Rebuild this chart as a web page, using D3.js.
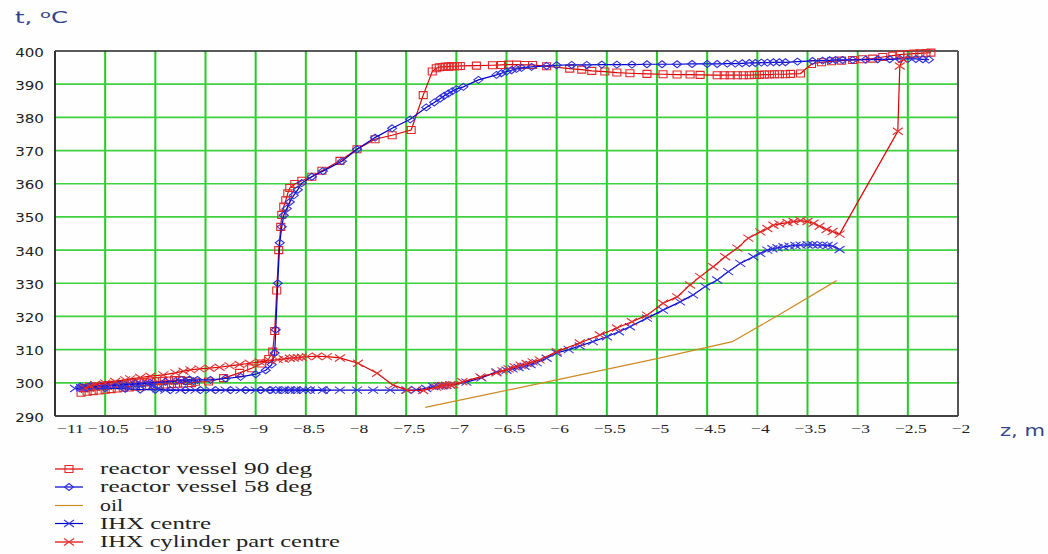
<!DOCTYPE html>
<html><head><meta charset="utf-8">
<script src="https://cdn.jsdelivr.net/npm/d3@7"></script>
<style>html,body{margin:0;padding:0;background:#fff;}svg{display:block;}</style>
</head><body>
<script>
// ---------- data ----------
const seriesNames = ["reactor vessel 90 deg","reactor vessel 58 deg","oil","IHX centre","IHX cylinder part centre"];
const xTicks = [-11,-10.5,-10,-9.5,-9,-8.5,-8,-7.5,-7,-6.5,-6,-5.5,-5,-4.5,-4,-3.5,-3,-2.5,-2];
const yTicks = [290,300,310,320,330,340,350,360,370,380,390,400];

const rv90 = [[-10.74,297.0],[-10.71,298.4],[-10.68,297.3],[-10.65,298.7],[-10.62,297.5],[-10.59,298.9],[-10.56,297.7],[-10.53,299.1],[-10.5,297.9],[-10.47,299.3],[-10.44,298.1],[-10.41,299.4],[-10.38,298.3],[-10.35,299.6],[-10.32,298.5],[-10.29,299.8],[-10.26,298.6],[-10.23,299.9],[-10.2,298.8],[-10.17,300.1],[-10.14,298.9],[-10.11,300.2],[-10.08,299.1],[-10.05,300.4],[-10.02,299.2],[-9.99,300.5],[-9.96,299.4],[-9.93,300.6],[-9.9,299.5],[-9.87,300.7],[-9.84,299.6],[-9.81,300.8],[-9.78,299.7],[-9.75,300.8],[-9.72,299.8],[-9.68,300.6],[-9.64,299.9],[-9.6,300.3],[-9.47,300.4],[-9.32,301.4],[-9.16,303.0],[-9.04,304.4],[-8.94,305.8],[-8.87,307.2],[-8.83,309.4],[-8.81,315.6],[-8.79,327.8],[-8.77,340.0],[-8.75,347.0],[-8.74,350.6],[-8.72,353.1],[-8.7,355.0],[-8.68,357.1],[-8.66,358.7],[-8.61,359.9],[-8.54,360.9],[-8.44,362.1],[-8.34,363.9],[-8.16,366.9],[-7.99,370.4],[-7.81,373.4],[-7.64,374.6],[-7.45,376.2],[-7.33,386.7],[-7.24,393.8],[-7.2,394.8],[-7.17,395.1],[-7.14,395.2],[-7.11,395.3],[-7.08,395.3],[-7.05,395.4],[-7.02,395.4],[-6.99,395.4],[-6.96,395.5],[-6.8,395.6],[-6.64,395.7],[-6.55,395.8],[-6.48,395.9],[-6.4,395.9],[-6.32,395.8],[-6.24,395.8],[-6.1,395.4],[-5.87,394.7],[-5.75,394.4],[-5.65,394.0],[-5.52,393.8],[-5.4,393.5],[-5.27,393.3],[-5.1,393.1],[-4.94,393.0],[-4.8,392.9],[-4.67,392.9],[-4.57,392.8],[-4.4,392.7],[-4.33,392.7],[-4.27,392.7],[-4.2,392.7],[-4.14,392.7],[-4.08,392.7],[-4.03,392.8],[-3.98,392.8],[-3.93,392.9],[-3.88,392.9],[-3.83,393.0],[-3.78,393.0],[-3.72,393.0],[-3.67,393.1],[-3.57,393.2],[-3.46,396.1],[-3.36,396.6],[-3.26,396.9],[-3.16,397.1],[-3.05,397.3],[-2.95,397.5],[-2.85,397.7],[-2.75,398.2],[-2.65,398.6],[-2.58,398.9],[-2.5,399.1],[-2.44,399.2],[-2.38,399.3],[-2.32,399.4],[-2.27,399.5]];

const rv58 = [[-8.3,297.8],[-8.45,297.8],[-8.56,297.8],[-8.62,297.8],[-8.68,297.8],[-8.74,297.8],[-8.8,297.8],[-8.86,297.8],[-8.95,297.8],[-9.1,297.8],[-9.25,297.8],[-9.4,297.8],[-9.55,297.8],[-9.7,297.8],[-9.85,297.8],[-10.0,297.9],[-10.15,298.0],[-10.3,298.2],[-10.5,298.4],[-10.68,298.5],[-10.75,298.8],[-10.65,299.0],[-10.5,299.2],[-10.35,299.5],[-10.2,299.8],[-10.05,300.0],[-9.9,300.3],[-9.8,300.5],[-9.74,300.9],[-9.7,300.4],[-9.66,301.0],[-9.62,300.5],[-9.58,300.9],[-9.45,300.9],[-9.3,301.3],[-9.15,301.8],[-9.0,302.6],[-8.9,303.8],[-8.84,305.5],[-8.81,309.0],[-8.8,316.0],[-8.78,330.0],[-8.76,342.2],[-8.74,347.0],[-8.72,350.5],[-8.69,352.5],[-8.66,354.5],[-8.62,356.5],[-8.58,358.2],[-8.54,360.2],[-8.44,362.1],[-8.33,363.8],[-8.14,366.8],[-7.99,370.4],[-7.81,373.9],[-7.64,376.7],[-7.46,379.4],[-7.3,383.0],[-7.22,384.5],[-7.16,385.7],[-7.12,386.5],[-7.08,387.2],[-7.04,387.9],[-7.0,388.5],[-6.93,389.2],[-6.78,391.3],[-6.6,392.8],[-6.55,393.3],[-6.5,393.8],[-6.45,394.2],[-6.4,394.6],[-6.35,394.9],[-6.25,395.2],[-6.1,395.5],[-6.0,395.7],[-5.85,395.8],[-5.7,395.8],[-5.55,395.9],[-5.4,395.9],[-5.25,395.9],[-5.1,396.0],[-4.95,396.0],[-4.8,396.0],[-4.65,396.1],[-4.5,396.1],[-4.4,396.1],[-4.3,396.2],[-4.22,396.2],[-4.15,396.3],[-4.08,396.4],[-4.02,396.4],[-3.96,396.5],[-3.9,396.5],[-3.84,396.6],[-3.78,396.6],[-3.72,396.6],[-3.6,396.8],[-3.45,397.0],[-3.35,397.1],[-3.28,397.2],[-3.22,397.3],[-3.15,397.3],[-3.05,397.3],[-2.92,397.4],[-2.8,397.5],[-2.68,397.5],[-2.58,397.6],[-2.5,397.6],[-2.42,397.6],[-2.35,397.5],[-2.29,397.4]];

const oil = [[-7.31,292.6],[-6.0,300.9],[-5.0,307.3],[-4.25,312.4],[-3.8,320.2],[-3.21,330.8]];

const ihx = [[-10.8,298.3],[-10.74,298.5],[-10.68,298.7],[-10.62,298.8],[-10.56,299.0],[-10.5,299.1],[-10.44,299.2],[-10.38,299.3],[-10.32,299.4],[-10.26,299.5],[-10.2,299.6],[-10.14,299.7],[-10.08,299.8],[-10.02,299.2],[-9.98,298.2],[-9.9,297.8],[-9.75,297.8],[-9.6,297.8],[-9.45,297.8],[-9.3,297.8],[-9.15,297.8],[-9.0,297.8],[-8.9,297.8],[-8.8,297.8],[-8.72,297.8],[-8.66,297.8],[-8.6,297.8],[-8.54,297.8],[-8.46,297.8],[-8.33,297.8],[-8.16,297.8],[-7.99,297.8],[-7.83,297.8],[-7.66,297.8],[-7.5,297.8],[-7.4,297.9],[-7.3,298.3],[-7.23,298.9],[-7.18,299.0],[-7.14,299.1],[-7.1,299.2],[-7.06,299.3],[-6.9,300.2],[-6.75,301.5],[-6.6,303.3],[-6.5,303.8],[-6.44,304.2],[-6.38,304.6],[-6.32,305.0],[-6.26,305.5],[-6.2,306.1],[-6.1,307.4],[-6.0,309.0],[-5.88,310.0],[-5.77,311.1],[-5.64,312.4],[-5.5,313.9],[-5.38,315.4],[-5.27,316.9],[-5.1,319.5],[-4.94,321.9],[-4.77,324.4],[-4.64,326.5],[-4.52,329.0],[-4.4,331.0],[-4.29,333.5],[-4.17,336.0],[-4.04,338.0],[-3.97,339.0],[-3.9,340.0],[-3.85,340.4],[-3.8,340.7],[-3.74,341.0],[-3.68,341.2],[-3.62,341.4],[-3.57,341.5],[-3.5,341.6],[-3.45,341.6],[-3.4,341.5],[-3.35,341.5],[-3.3,341.4],[-3.25,341.2],[-3.18,340.2]];

const ihxCyl = [[-10.7,298.4],[-10.65,299.0],[-10.6,299.5],[-10.5,299.9],[-10.4,300.4],[-10.3,300.9],[-10.25,301.2],[-10.15,301.6],[-10.05,302.0],[-9.92,302.4],[-9.8,303.0],[-9.72,303.5],[-9.65,303.9],[-9.56,304.2],[-9.46,304.4],[-9.36,304.7],[-9.26,305.1],[-9.16,305.5],[-9.06,305.9],[-8.96,306.3],[-8.86,306.7],[-8.78,307.0],[-8.72,307.2],[-8.66,307.4],[-8.62,307.5],[-8.58,307.6],[-8.54,307.7],[-8.49,307.9],[-8.39,308.0],[-8.29,307.9],[-8.16,307.5],[-7.98,305.9],[-7.79,302.9],[-7.63,299.3],[-7.49,297.8],[-7.33,297.7],[-7.2,298.7],[-7.16,299.0],[-7.13,299.2],[-7.1,299.3],[-7.06,299.4],[-7.03,299.4],[-6.94,300.3],[-6.76,301.8],[-6.6,303.0],[-6.54,303.6],[-6.48,304.2],[-6.42,304.8],[-6.36,305.3],[-6.3,305.8],[-6.24,306.3],[-6.17,306.9],[-6.0,309.4],[-5.77,312.0],[-5.57,314.4],[-5.4,316.5],[-5.25,318.4],[-5.1,320.4],[-4.94,324.0],[-4.8,325.9],[-4.67,329.5],[-4.57,332.0],[-4.44,335.0],[-4.32,338.0],[-4.2,340.6],[-4.09,343.6],[-3.97,345.5],[-3.9,346.5],[-3.84,347.5],[-3.78,347.9],[-3.7,348.3],[-3.64,348.6],[-3.57,348.9],[-3.5,348.6],[-3.44,348.1],[-3.38,347.2],[-3.31,346.2],[-3.25,345.6],[-3.18,344.8],[-2.6,375.8],[-2.58,395.5],[-2.55,397.5]];

// ---------- layout ----------
const W = 1048, H = 554;
const svg = d3.select("body").append("svg").attr("width", W).attr("height", H);
svg.append("rect").attr("width", W).attr("height", H).attr("fill", "#fefefe");

const x = d3.scaleLinear().domain([-11, -2]).range([55, 958]);
const y = d3.scaleLinear().domain([290, 400]).range([416, 51]);

function stretch(sel, factor) {
  sel.each(function () {
    const len = this.getComputedTextLength();
    d3.select(this).attr("textLength", len * factor).attr("lengthAdjust", "spacingAndGlyphs");
  });
}

// grid
const grid = svg.append("g");
grid.selectAll("line.v").data(xTicks.filter(d => d > -11 && d < -2)).join("line")
  .attr("x1", d => x(d)).attr("x2", d => x(d)).attr("y1", y(400)).attr("y2", y(290))
  .attr("stroke", "#22cc22").attr("stroke-width", 2);
grid.selectAll("line.h").data(yTicks.filter(d => d > 290 && d < 400)).join("line")
  .attr("x1", x(-11)).attr("x2", x(-2)).attr("y1", d => y(d)).attr("y2", d => y(d))
  .attr("stroke", "#3fd03f").attr("stroke-width", 1.7);

// frame
svg.append("line").attr("x1", x(-11)).attr("x2", x(-2)).attr("y1", y(400)).attr("y2", y(400)).attr("stroke", "#222").attr("stroke-width", 1.5);
svg.append("line").attr("x1", x(-2)).attr("x2", x(-2)).attr("y1", y(400)).attr("y2", y(290)).attr("stroke", "#555").attr("stroke-width", 2);
svg.append("line").attr("x1", x(-11)).attr("x2", x(-2)).attr("y1", y(290)).attr("y2", y(290)).attr("stroke", "#444").attr("stroke-width", 2);
svg.append("line").attr("x1", x(-11)).attr("x2", x(-11)).attr("y1", y(400)).attr("y2", y(290)).attr("stroke", "#333").attr("stroke-width", 2);

// y tick labels
const yl = svg.append("g").selectAll("text").data(yTicks).join("text")
  .attr("x", 44).attr("y", d => y(d) + 5.5).attr("text-anchor", "end")
  .attr("font-family", "DejaVu Sans, Verdana, sans-serif").attr("font-size", 13).attr("fill", "#222")
  .text(d => d);
stretch(yl, 1.16);

// x tick labels
const fmt = d3.format("");
const xl = svg.append("g").selectAll("text").data(xTicks).join("text")
  .attr("x", (d, i) => i === 0 ? 57 : x(d) + 3).attr("y", 433)
  .attr("text-anchor", (d, i) => i === 0 ? "start" : "middle")
  .attr("font-family", "Liberation Serif, Times New Roman, serif").attr("font-size", 13.5).attr("fill", "#222")
  .text(d => fmt(d));
stretch(xl, 1.3);

// axis titles
const tt = svg.append("text").attr("x", 15).attr("y", 23)
  .attr("font-family", "DejaVu Sans, Verdana, sans-serif").attr("font-size", 15).attr("fill", "#34458a");
tt.append("tspan").text("t, ");
tt.append("tspan").attr("dy", -5).attr("font-size", 11).text("o");
tt.append("tspan").attr("dy", 5).text("C");
tt.attr("textLength", 53).attr("lengthAdjust", "spacingAndGlyphs");
svg.append("text").attr("x", 1000).attr("y", 436)
  .attr("font-family", "DejaVu Sans, Verdana, sans-serif").attr("font-size", 15).attr("fill", "#34458a")
  .text("z, m").attr("textLength", 45).attr("lengthAdjust", "spacingAndGlyphs");

// markers
const markerPath = {
  square: "M-4,-3.5H4V3.5H-4Z",
  diamond: "M0,-3.5L4.5,0L0,3.5L-4.5,0Z",
  cross: "M-5,-3.5L5,3.5M-5,3.5L5,-3.5",
  none: null
};
const specs = [
  {data: rv90, color: "#dd0000", mcolor: "#e02828", marker: "square", lw: 1.2},
  {data: rv58, color: "#0000cc", mcolor: "#3030dd", marker: "diamond", lw: 1.2},
  {data: oil, color: "#cc8a22", mcolor: "#cc8a22", marker: "none", lw: 1.2},
  {data: ihx, color: "#0000cc", mcolor: "#3535e0", marker: "cross", lw: 1.2},
  {data: ihxCyl, color: "#dd0000", mcolor: "#e03030", marker: "cross", lw: 1.2}
];

const line = d3.line().x(d => x(d[0])).y(d => y(d[1]));
const plot = svg.append("g");
specs.forEach(s => {
  const g = plot.append("g");
  g.append("path").attr("d", line(s.data)).attr("fill", "none").attr("stroke", s.color).attr("stroke-width", s.lw);
  if (markerPath[s.marker]) {
    g.selectAll("path.m").data(s.data).join("path").attr("class", "m")
      .attr("transform", d => `translate(${x(d[0])},${y(d[1])})`)
      .attr("d", markerPath[s.marker]).attr("fill", "none")
      .attr("stroke", s.mcolor).attr("stroke-width", 1.1);
  }
});

// legend
const legendY = [474, 492, 510.5, 528.5, 547];
const legendW = [212, 212, 23, 111, 240];
const lg = svg.append("g");
specs.forEach((s, i) => {
  const cy = legendY[i] - 5;
  lg.append("line").attr("x1", 55).attr("x2", 83).attr("y1", cy).attr("y2", cy)
    .attr("stroke", s.color).attr("stroke-width", 1.2);
  if (markerPath[s.marker]) {
    lg.append("path").attr("transform", `translate(69,${cy})`).attr("d", markerPath[s.marker])
      .attr("fill", "none").attr("stroke", s.mcolor).attr("stroke-width", 1.1);
  }
  lg.append("text").attr("x", 100).attr("y", legendY[i])
    .attr("font-family", "Liberation Serif, Times New Roman, serif").attr("font-size", 17).attr("fill", "#222")
    .text(seriesNames[i]).attr("textLength", legendW[i]).attr("lengthAdjust", "spacingAndGlyphs");
});
</script>
</body></html>
